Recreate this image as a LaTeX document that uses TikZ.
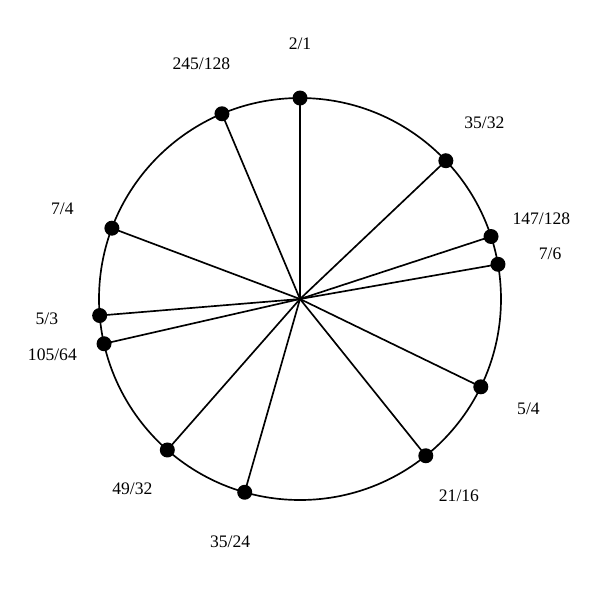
\documentclass[tikz,border=0pt]{standalone}
\usepackage{fontspec}
\setmainfont{Liberation Serif}
\begin{document}
\begin{tikzpicture}[x=0.02cm,y=-0.02cm,
  ring/.style={draw=black,line width=0.95pt},
  spoke/.style={draw=black,line width=0.95pt},
  dot/.style={circle,fill=black,inner sep=0pt,minimum size=0.3cm},
  lbl/.style={inner sep=0pt,font=\fontsize{10}{12}\selectfont}]
\useasboundingbox (0,0) rectangle (600,600);
\coordinate (c) at (300,299);
\draw[ring] (c) circle[radius=201*0.02cm];
\foreach \n/\d/\t [count=\i] in {2/1/2\slash 1, 35/32/35\slash 32, 147/128/147\slash 128, 7/6/7\slash 6,
  5/4/5\slash 4, 21/16/21\slash 16, 35/24/35\slash 24, 49/32/49\slash 32,
  105/64/105\slash 64, 5/3/5\slash 3, 7/4/7\slash 4, 245/128/245\slash 128}{
  \pgfmathsetmacro\a{360*ln(\n/\d)/ln(2)}
  \node[dot] (p\i) at ({300+201*sin(\a)},{299-201*cos(\a)}) {};
  \node[lbl] (l\i) at ({300+254*sin(\a)},{298-254*cos(\a)}) {\t};
  \draw[spoke] (c) -- (p\i.center);
}
\end{tikzpicture}
\end{document}
